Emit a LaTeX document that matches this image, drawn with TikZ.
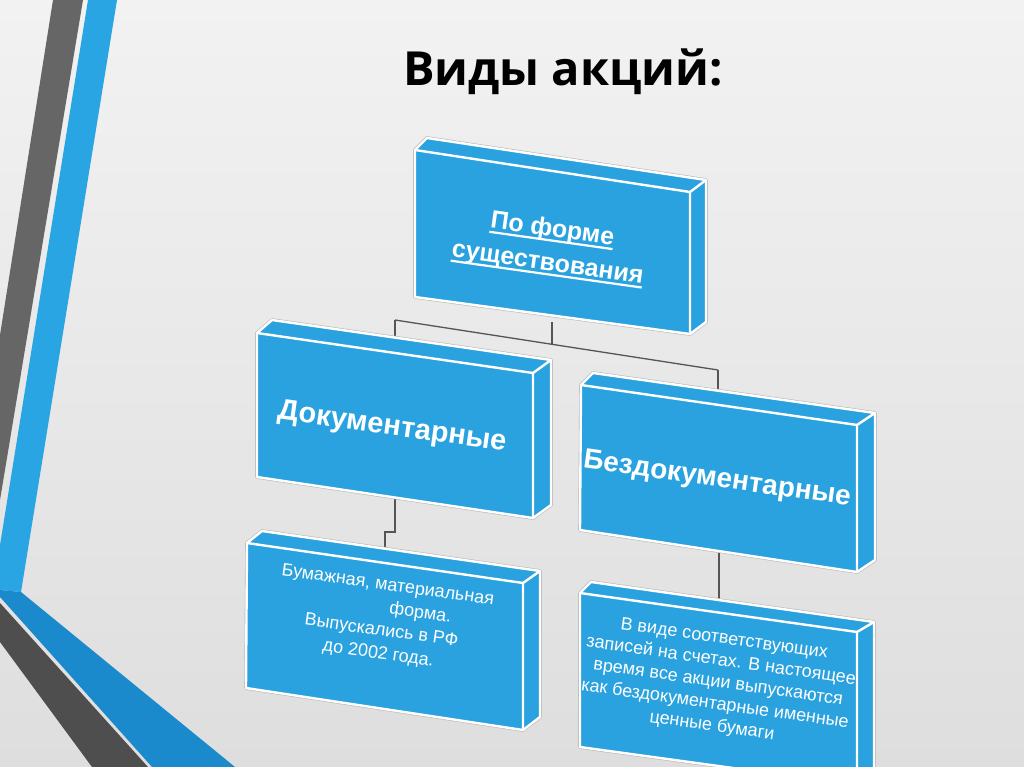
\documentclass[tikz,border=0pt]{standalone}
\usepackage{fontspec}
\setmainfont{Liberation Sans}
\newfontfamily\titlefont{Open Sans}
\definecolor{bgtop}{RGB}{242,242,242}
\definecolor{bgbot}{RGB}{222,222,222}
\definecolor{boxblue}{RGB}{41,162,223}
\definecolor{stripeblue}{RGB}{42,165,228}
\definecolor{diagblue}{RGB}{27,138,204}
\definecolor{stripegray}{RGB}{102,102,102}
\definecolor{bandgray}{RGB}{78,78,78}
\definecolor{conncol}{RGB}{85,85,85}
\newcommand\myul[1]{\leavevmode\setbox0\hbox{#1}\rlap{\rule[-5pt]{\wd0}{2.2pt}}\box0}
\newcommand\slab[8]{%
  \coordinate (#1-ftl) at #2; \coordinate (#1-ftr) at #3;
  \coordinate (#1-fbr) at #4; \coordinate (#1-fbl) at #5;
  \coordinate (#1-btl) at #6; \coordinate (#1-btr) at #7;
  \coordinate (#1-bbr) at #8;
  \draw[gray!55, line width=3.6pt, line join=round]
    (#1-ftl)--(#1-btl)--(#1-btr)--(#1-bbr)--(#1-fbr)--(#1-fbl)--cycle;
  \fill[boxblue] (#1-ftl)--(#1-btl)--(#1-btr)--(#1-bbr)--(#1-fbr)--(#1-fbl)--cycle;
  \draw[edge] (#1-ftl)--(#1-btl)--(#1-btr)--(#1-bbr)--(#1-fbr)--(#1-fbl)--cycle;
  \draw[edge] (#1-ftl)--(#1-ftr)--(#1-fbr) (#1-ftr)--(#1-btr);
}
\tikzset{
  edge/.style={white, line width=2.4pt, line join=round},
  conn/.style={conncol, line width=1.3pt},
  lbl/.style={text=white, align=center, inner sep=0pt, rotate=-8},
}
\begin{document}
\begin{tikzpicture}[x=1pt,y=-1pt]
\useasboundingbox (0,0) rectangle (1024,767);
\shade[top color=bgtop, bottom color=bgbot] (0,0) rectangle (1024,767);
% left decoration
\fill[stripegray] (53,0)--(83,0)--(0,500)--(0,335)--cycle;
\fill[stripeblue] (88,0)--(117,0)--(21,592)--(0,590)--(0,545)--cycle;
\fill[diagblue] (0,590)--(21,592)--(235,767)--(152,767)--(0,597)--cycle;
\fill[bandgray] (0,603)--(148,767)--(92,767)--(0,642)--cycle;
% title
\node[font=\titlefont\bfseries\fontsize{47}{56}\selectfont, anchor=base] (title) at (563,86) {Виды акций:};
% connector points
\coordinate (topb) at (552,322);
\coordinate (j0) at (552,344);
\coordinate (jl) at (395,320);
\coordinate (jr) at (718,370);
\coordinate (doct) at (395,342);
\coordinate (bezt) at (718,396);
\coordinate (docb) at (395,495);
\coordinate (docs1) at (395,532);
\coordinate (docs2) at (385,532);
\coordinate (papt) at (385,552);
\coordinate (bezb) at (719,548);
\coordinate (vvdt) at (719,602);
\draw[conn] (topb) -- (j0);
\draw[conn] (jl) -- (jr);
\draw[conn] (jl) -- (doct);
\draw[conn] (jr) -- (bezt);
\draw[conn] (docb) -- (docs1) -- (docs2) -- (papt);
\draw[conn] (bezb) -- (vvdt);
% boxes
\slab{top}{(415,150)}{(690,192)}{(690,334)}{(415,297)}{(427,138)}{(706,180)}{(706,322)}
\slab{doc}{(257,333)}{(533,373)}{(533,518)}{(257,477)}{(272,320)}{(551,360)}{(551,505)}
\slab{bez}{(581,385)}{(857,425)}{(857,572)}{(580,530)}{(593,373)}{(875,413)}{(875,560)}
\slab{pap}{(247,543)}{(523,583)}{(523,730)}{(246,688)}{(262,531)}{(540,571)}{(540,717)}
\slab{vvd}{(580,593)}{(857,632)}{(857,785)}{(580,747)}{(591,582)}{(874,622)}{(874,775)}
% labels
\node[lbl, font=\bfseries\fontsize{25}{34}\selectfont] (t1) at (550,247)
  {\myul{По форме}\\\myul{существования}};
\node[lbl, font=\bfseries\fontsize{29}{34}\selectfont] (t2) at (392,428) {Документарные};
\node[lbl, font=\bfseries\fontsize{28}{34}\selectfont] (t3) at (717,480) {Бездокументарные};
\node[lbl, font=\fontsize{18}{23}\selectfont] (t4) at (383,620)
  {Бумажная, материальная\\\hspace*{72pt}форма.\\Выпускались в РФ\\до 2002 года.};
\begin{scope}
\clip (vvd-ftl)--(vvd-btl)--(vvd-btr)--(vvd-bbr)--(vvd-fbr)--(vvd-fbl)--cycle;
\node[lbl, font=\fontsize{18}{22}\selectfont] (t5) at (718,683)
  {В виде соответствующих\\записей на счетах. В настоящее\\время все акции выпускаются\\как бездокументарные именные\\ценные бумаги};
\end{scope}
\end{tikzpicture}
\end{document}
